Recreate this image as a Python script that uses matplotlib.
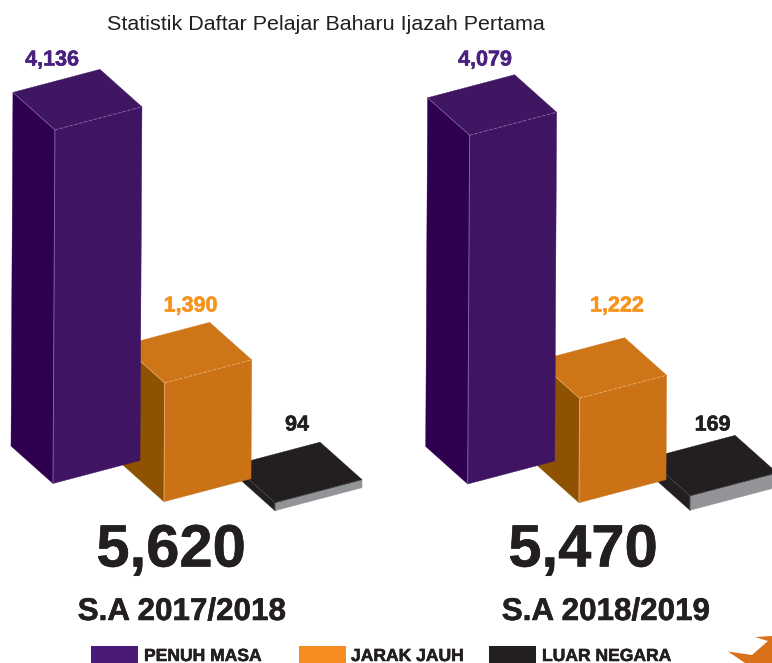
#!/usr/bin/env python3
# 3D style bars of new first degree students, per session
import matplotlib
matplotlib.use('Agg')
import matplotlib.pyplot as plt
from matplotlib.patches import Polygon, Rectangle
import matplotlib.patheffects as pe

plt.rcParams['font.family'] = ['Liberation Sans', 'DejaVu Sans']

title = 'Statistik Daftar Pelajar Baharu Ijazah Pertama'
categories = ['PENUH MASA', 'JARAK JAUH', 'LUAR NEGARA']
sessions = ['S.A 2017/2018', 'S.A 2018/2019']
values_2017 = [4136, 1390, 94]
values_2018 = [4079, 1222, 169]
totals = [5620, 5470]

# layout, in pixels of the 772x663 picture
PX_PER_STUDENT = 0.0855
WIDTH_VEC = (87.0, -23.0)
DEPTH_VEC = (-42.0, -37.5)
LEAN = 0.0055
base_2017 = [(53.0, 483.5), (164.0, 501.7), (275.0, 510.7)]
base_2018 = [(467.7, 484.0), (579.0, 502.7), (690.0, 510.3)]
label_pos_2017 = [(52, 60), (190.5, 306), (297, 425)]
label_pos_2018 = [(485, 60), (617, 306), (712.5, 425)]

# front, top, side, hairline
bar_colors = [('#3f1463', '#3e1662', '#300050', '#8a6aa8'),
              ('#ca7215', '#ce7518', '#8f5203', '#e8b070'),
              ('#929497', '#231f20', '#231f20', '#4a4a4a')]
label_colors = ['#4a2180', '#f7941d', '#231f20']
legend_colors = ['#4a1a78', '#f68b1f', '#231f20']


def draw_bar(ax, base, value, colors, z):
    front, top, side, line = colors
    height = value * PX_PER_STUDENT
    x0, y0 = base
    wx, wy = WIDTH_VEC
    dx, dy = DEPTH_VEC
    tx = x0 + LEAN * height
    ty = y0 - height

    front_face = [(x0, y0), (x0 + wx, y0 + wy), (tx + wx, ty + wy), (tx, ty)]
    side_face = [(x0, y0), (x0 + dx, y0 + dy), (tx + dx, ty + dy), (tx, ty)]
    top_face = [(tx, ty), (tx + wx, ty + wy), (tx + wx + dx, ty + wy + dy), (tx + dx, ty + dy)]

    ax.add_patch(Polygon(side_face, closed=True, fc=side, ec=side, lw=0.3, zorder=z))
    ax.add_patch(Polygon(front_face, closed=True, fc=front, ec=front, lw=0.3, zorder=z))
    ax.add_patch(Polygon(top_face, closed=True, fc=top, ec=top, lw=0.3, zorder=z))

    # thin light edges of the original artwork
    ax.plot([tx, tx + wx], [ty, ty + wy], color=line, lw=0.6, ls=(0, (4, 2)), zorder=z + 0.5)
    ax.plot([tx, tx + dx], [ty, ty + dy], color=line, lw=0.5, zorder=z + 0.5)
    ax.plot([x0, tx], [y0, ty], color=line, lw=0.6, zorder=z + 0.5)


def heavy_text(ax, x, y, s, size, color, ha='center'):
    # the reference lettering is a little heavier than Liberation bold
    ax.text(x, y, s, fontsize=size, fontweight='bold', color=color, ha=ha, va='center',
            zorder=10, path_effects=[pe.withStroke(linewidth=0.4, foreground=color)])


def main():
    fig = plt.figure(figsize=(7.72, 6.63), dpi=100)
    ax = fig.add_axes([0, 0, 1, 1])
    ax.set_xlim(0, 772)
    ax.set_ylim(663, 0)
    ax.axis('off')

    ax.text(107, 25, title, fontsize=15.45, color='#231f20', ha='left', va='center')

    groups = [(values_2017, base_2017, label_pos_2017),
              (values_2018, base_2018, label_pos_2018)]
    for values, bases, label_pos in groups:
        # back to front: small bars lie behind the tall one
        for z, i in enumerate([2, 1, 0]):
            draw_bar(ax, bases[i], values[i], bar_colors[i], z + 1)
        for i in range(3):
            heavy_text(ax, label_pos[i][0], label_pos[i][1], f'{values[i]:,}', 15.5, label_colors[i])

    heavy_text(ax, 171, 551, f'{totals[0]:,}', 43, '#231f20')
    heavy_text(ax, 583, 551, f'{totals[1]:,}', 43, '#231f20')
    heavy_text(ax, 182, 612, sessions[0], 22.6, '#231f20')
    heavy_text(ax, 606, 612, sessions[1], 22.6, '#231f20')

    # legend, cut by the bottom of the picture
    swatch_x = [91, 299, 489]
    text_x = [144, 351, 542]
    for i, name in enumerate(categories):
        ax.add_patch(Rectangle((swatch_x[i], 646), 47, 20, fc=legend_colors[i], ec='none'))
        heavy_text(ax, text_x[i], 656.5, name, 12.6, '#231f20', ha='left')

    # corner of a logo at the bottom right
    ax.add_patch(Polygon([(728, 651.5), (752, 655), (768, 641), (755, 637), (772, 636),
                          (772, 663), (745, 663)], closed=True, fc='#d9701a', ec='none'))

    fig.savefig('out.png', dpi=100)
    plt.close(fig)


if __name__ == "__main__":
    main()
